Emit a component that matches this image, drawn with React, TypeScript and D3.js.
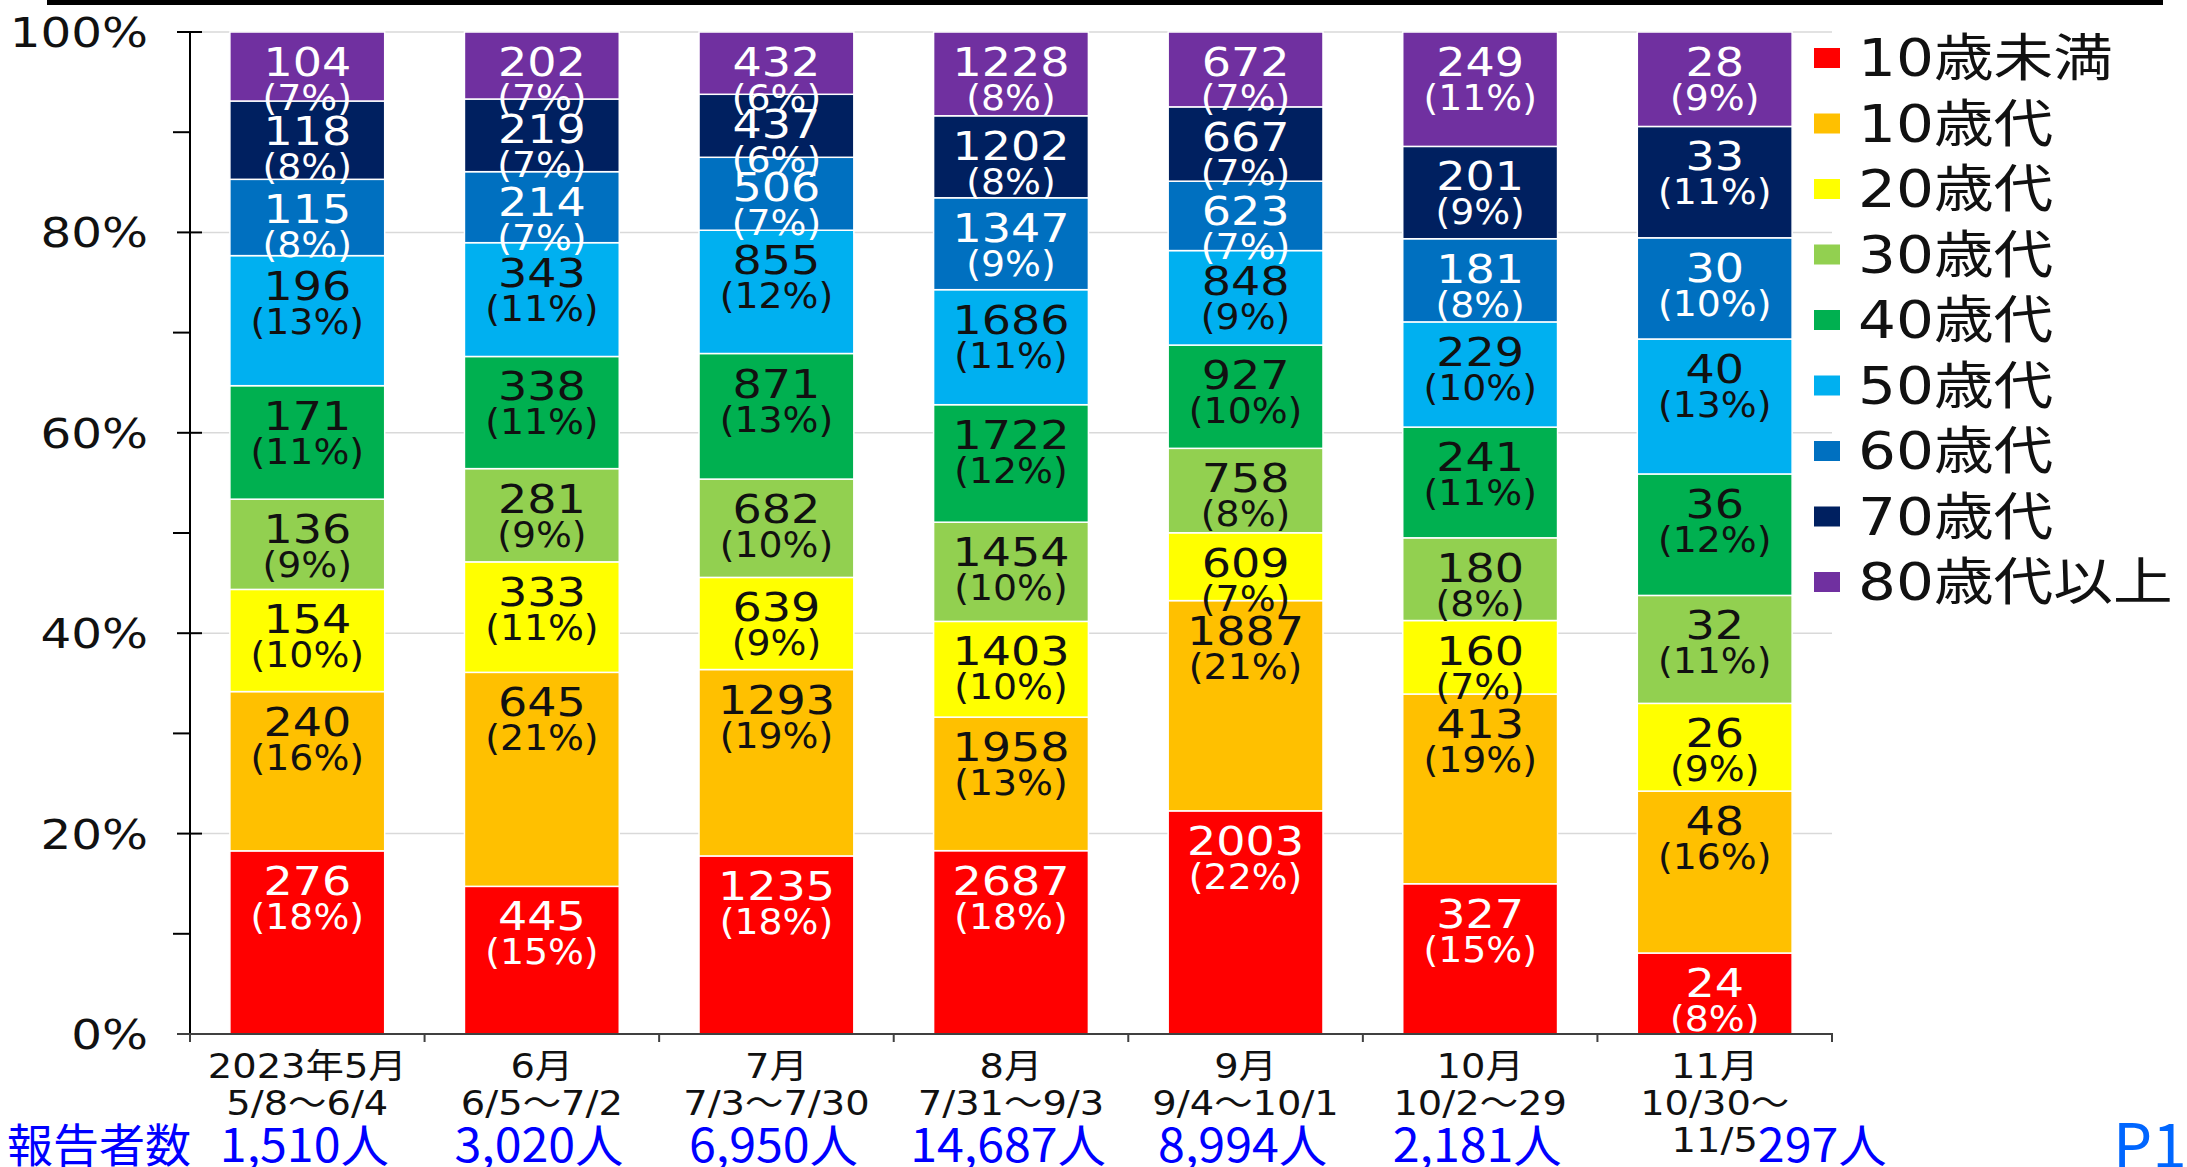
import React, { useEffect, useRef } from "react";
import * as d3 from "d3";

const W = 2187;
const H = 1167;

// categories (months) and their reporting periods
const months = ["2023年5月", "6月", "7月", "8月", "9月", "10月", "11月"];
const periods = [
  ["5/8～6/4"],
  ["6/5～7/2"],
  ["7/3～7/30"],
  ["7/31～9/3"],
  ["9/4～10/1"],
  ["10/2～29"],
  ["10/30～", "11/5"],
];
const reporters = ["1,510人", "3,020人", "6,950人", "14,687人", "8,994人", "2,181人", "297人"];

// age groups, bottom to top
const ageGroups = ["10歳未満", "10歳代", "20歳代", "30歳代", "40歳代", "50歳代", "60歳代", "70歳代", "80歳代以上"];
const colors = ["#ff0000", "#ffc000", "#ffff00", "#92d050", "#00b050", "#00b0f0", "#0070c0", "#002060", "#7030a0"];
const labelColors = ["#ffffff", "#111111", "#111111", "#111111", "#111111", "#111111", "#ffffff", "#ffffff", "#ffffff"];

// counts per age group, one value per month
const under10 = [276, 445, 1235, 2687, 2003, 327, 24];
const teens = [240, 645, 1293, 1958, 1887, 413, 48];
const twenties = [154, 333, 639, 1403, 609, 160, 26];
const thirties = [136, 281, 682, 1454, 758, 180, 32];
const forties = [171, 338, 871, 1722, 927, 241, 36];
const fifties = [196, 343, 855, 1686, 848, 229, 40];
const sixties = [115, 214, 506, 1347, 623, 181, 30];
const seventies = [118, 219, 437, 1202, 667, 201, 33];
const over80 = [104, 202, 432, 1228, 672, 249, 28];
const seriesValues = [under10, teens, twenties, thirties, forties, fifties, sixties, seventies, over80];

const yTicks = [0, 0.2, 0.4, 0.6, 0.8, 1];
const yMinorTicks = [0.1, 0.3, 0.5, 0.7, 0.9];

const NUM_FONT = "'DejaVu Sans', sans-serif";
const JP_FONT = "'Noto Sans CJK JP', 'Noto Sans', sans-serif";
const MIX_FONT = "'DejaVu Sans', 'Noto Sans CJK JP', sans-serif";

export default function App() {
  const svgRef = useRef<SVGSVGElement | null>(null);

  useEffect(() => {
    if (!svgRef.current) return;
    document.body.style.margin = "0";
    const svg = d3.select(svgRef.current);
    svg.selectAll("*").remove();

    const keys = ageGroups;
    const rows = months.map((m, i) => {
      const r: any = { month: m };
      keys.forEach((k, j) => (r[k] = seriesValues[j][i]));
      r.total = seriesValues.reduce((s, arr) => s + arr[i], 0);
      return r;
    });

    const stack = d3.stack<any>().keys(keys).offset(d3.stackOffsetExpand);
    const layers = stack(rows);

    const x = d3.scaleBand().domain(months).range([190, 1832]).paddingInner(0.34).paddingOuter(0.17);
    const y = d3.scaleLinear().domain([0, 1]).range([1034, 32]);
    const step = x.step();
    const cx = (m: string) => (x(m) as number) + x.bandwidth() / 2;

    svg.append("rect").attr("width", W).attr("height", H).attr("fill", "#fff");

    // top rule
    svg.append("rect").attr("x", 47).attr("y", 0).attr("width", 2116).attr("height", 5).attr("fill", "#000");

    // gridlines
    svg
      .append("g")
      .selectAll("line")
      .data(yTicks.filter((t) => t > 0))
      .join("line")
      .attr("x1", 202)
      .attr("x2", 1832)
      .attr("y1", (d) => y(d))
      .attr("y2", (d) => y(d))
      .attr("stroke", "#d9d9d9")
      .attr("stroke-width", 1.5);

    // bars
    const barG = svg.append("g");
    layers.forEach((layer, li) => {
      barG
        .append("g")
        .selectAll("rect")
        .data(layer)
        .join("rect")
        .attr("x", (d: any) => x(d.data.month) as number)
        .attr("y", (d) => y(d[1]))
        .attr("width", x.bandwidth())
        .attr("height", (d) => y(d[0]) - y(d[1]))
        .attr("fill", colors[li])
        .attr("stroke", "#fff")
        .attr("stroke-width", 1.5);
    });

    // data labels (anchored near the top of each segment)
    const labG = svg.append("g");
    layers.forEach((layer, li) => {
      layer.forEach((d: any) => {
        const top = y(d[1]);
        const v = d.data[keys[li]];
        const pct = Math.round((v / d.data.total) * 100);
        labG
          .append("text")
          .attr("transform", `translate(${cx(d.data.month)},${top + 44}) scale(1.18,1)`)
          .attr("text-anchor", "middle")
          .attr("fill", labelColors[li])
          .style("font-family", NUM_FONT)
          .style("font-size", "39px")
          .text(v);
        labG
          .append("text")
          .attr("transform", `translate(${cx(d.data.month)},${top + 78}) scale(1.08,1)`)
          .attr("text-anchor", "middle")
          .attr("fill", labelColors[li])
          .style("font-family", NUM_FONT)
          .style("font-size", "35px")
          .text(`(${pct}%)`);
      });
    });

    // y axis
    const axG = svg.append("g");
    axG.append("line").attr("x1", 190).attr("x2", 190).attr("y1", y(1)).attr("y2", 1042).attr("stroke", "#000").attr("stroke-width", 2);
    axG
      .selectAll(".maj")
      .data(yTicks)
      .join("line")
      .attr("x1", 177)
      .attr("x2", 202)
      .attr("y1", (d) => y(d))
      .attr("y2", (d) => y(d))
      .attr("stroke", "#000")
      .attr("stroke-width", 2);
    axG
      .selectAll(".min")
      .data(yMinorTicks)
      .join("line")
      .attr("x1", 173)
      .attr("x2", 190)
      .attr("y1", (d) => y(d))
      .attr("y2", (d) => y(d))
      .attr("stroke", "#000")
      .attr("stroke-width", 2);
    axG
      .selectAll(".ylab")
      .data(yTicks)
      .join("text")
      .attr("transform", (d) => `translate(148,${y(d) + 15}) scale(1.18,1)`)
      .attr("text-anchor", "end")
      .attr("fill", "#111")
      .style("font-family", NUM_FONT)
      .style("font-size", "41px")
      .text((d) => `${Math.round(d * 100)}%`);

    // x axis
    axG.append("line").attr("x1", 177).attr("x2", 1833).attr("y1", 1034).attr("y2", 1034).attr("stroke", "#404040").attr("stroke-width", 2);
    axG
      .selectAll(".xt")
      .data(d3.range(months.length + 1))
      .join("line")
      .attr("x1", (i) => 190 + i * step)
      .attr("x2", (i) => 190 + i * step)
      .attr("y1", 1034)
      .attr("y2", 1042)
      .attr("stroke", "#404040")
      .attr("stroke-width", 2);

    // category labels
    const xlG = svg.append("g");
    let lastLineEnd = 0;
    months.forEach((m, i) => {
      const lines = [m, ...periods[i]];
      lines.forEach((t, k) => {
        const node = xlG
          .append("text")
          .attr("transform", `translate(${cx(m)},${1078 + k * 37}) scale(1.13,1)`)
          .attr("text-anchor", "middle")
          .attr("fill", "#111")
          .style("font-family", MIX_FONT)
          .style("font-size", "34px")
          .text(t);
        if (i === months.length - 1 && k === lines.length - 1) {
          const len = (node.node() as SVGTextElement).getComputedTextLength() * 1.13;
          lastLineEnd = cx(m) + len / 2;
        }
      });
    });

    // reporter counts
    const rG = svg.append("g");
    rG.append("text")
      .attr("x", 7)
      .attr("y", 1162)
      .attr("fill", "#0000ff")
      .style("font-family", JP_FONT)
      .style("font-size", "46px")
      .text("報告者数");
    months.forEach((m, i) => {
      const last = i === months.length - 1;
      rG.append("text")
        .attr("transform", `translate(${last ? lastLineEnd : cx(m) - 3},1162) scale(1.05,1)`)
        .attr("text-anchor", last ? "start" : "middle")
        .attr("fill", "#0000ff")
        .style("font-family", JP_FONT)
        .style("font-size", "46px")
        .text(reporters[i]);
    });

    // page number
    svg
      .append("text")
      .attr("x", 2113)
      .attr("y", 1168)
      .attr("fill", "#0066ff")
      .style("font-family", JP_FONT)
      .style("font-size", "62px")
      .text("P1");

    // legend (top to bottom = stack order)
    const legG = svg.append("g");
    ageGroups.forEach((g, i) => {
      const ry = 58 + i * 65.5;
      legG.append("rect").attr("x", 1814).attr("y", ry - 10).attr("width", 26).attr("height", 20).attr("fill", colors[i]);
      legG
        .append("text")
        .attr("transform", `translate(1858,${ry + 18}) scale(1.17,1)`)
        .attr("fill", "#111")
        .style("font-family", MIX_FONT)
        .style("font-size", "51px")
        .text(g);
    });
  }, []);

  return (
    <svg
      ref={svgRef}
      width={W}
      height={H}
      style={{ position: "absolute", left: 0, top: 0, display: "block" }}
    />
  );
}
